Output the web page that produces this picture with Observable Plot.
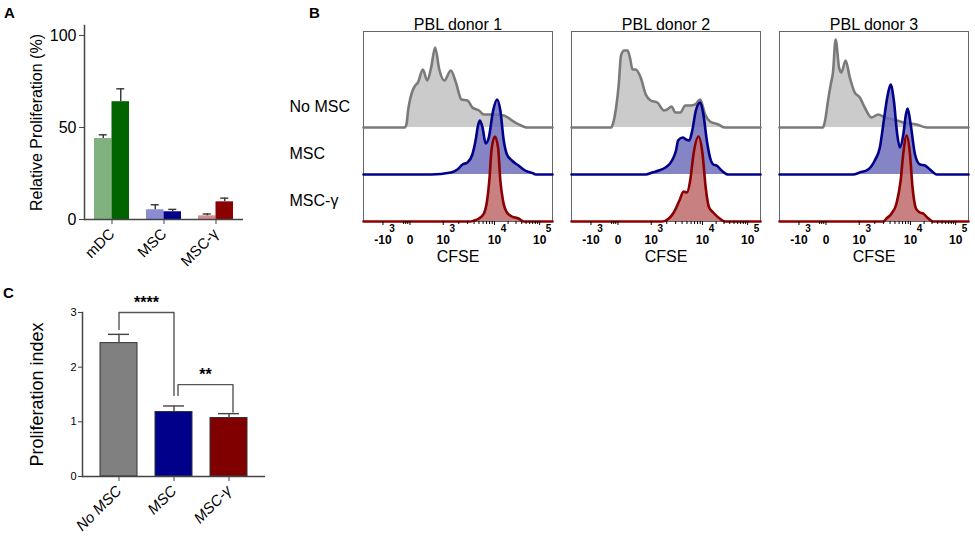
<!DOCTYPE html>
<html>
<head>
<meta charset="utf-8">
<script src="https://cdn.jsdelivr.net/npm/d3@7"></script>
<script src="https://cdn.jsdelivr.net/npm/@observablehq/plot@0.6"></script>
<style>
  body { margin: 0; background: #fff; }
  #fig { position: relative; width: 975px; height: 542px; background: #fff; overflow: hidden;
         font-family: "Liberation Sans", Arial, sans-serif; }
  .panel { position: absolute; }
  .lab { position: absolute; font: bold 15px "Liberation Sans", Arial, sans-serif; line-height: 1; }
</style>
</head>
<body>
<div id="fig">
  <div class="lab" style="left:4px;top:5px">A</div>
  <div class="lab" style="left:309px;top:5px">B</div>
  <div class="lab" style="left:3px;top:285px">C</div>
  <div class="panel" id="pa" style="left:0px;top:0px"></div>
  <div class="panel" id="pb" style="left:270px;top:0px"></div>
  <div class="panel" id="pc" style="left:0px;top:280px"></div>
</div>
<script>
// ---------- Panel A data ----------
const groupsA = ["mDC", "MSC", "MSC-γ"];
const lightA = [44, 5.3, 2.0];
const lightErrA = [2.0, 2.7, 1.0];
const darkA = [64, 4.2, 9.6];
const darkErrA = [7.0, 1.3, 2.0];
const lightColorsA = ["#80b280", "#8c8cd2", "#d48e8e"];
const darkColorsA = ["#006400", "#00008b", "#8b0000"];

// ---------- Panel B data (CFSE histograms: [axis position %, height]) ----------
const donors = ["PBL donor 1", "PBL donor 2", "PBL donor 3"];
const conditions = ["No MSC", "MSC", "MSC-γ"];
const d1NoMSC = [[0,0],[21.8,0],[22.7,3],[23.6,17],[26.2,38],[27.4,42],[28.8,45],[31.4,58],[33.7,47],[35.8,60],[37.9,80],[40.1,58],[42.8,47],[46.2,57],[48.9,45],[51.8,28],[55.0,27],[57.6,20],[61.1,17],[63.7,13],[68.1,13],[74.2,12],[79.4,6],[84.6,1],[86,0],[100,0]];
const d1MSC = [[0,0],[35.8,0],[46.2,2],[49.7,5],[52.4,10],[55.0,12],[57.6,20],[59.3,34],[60.6,49],[61.6,54],[63.0,47],[64.6,31],[66.3,37],[68.6,64],[70.7,75],[72.4,64],[74.2,34],[75.9,20],[78.5,14],[82.0,9],[85.5,4],[89.9,1],[91,0],[100,0]];
const d1MSCg = [[0,0],[56.7,0],[58.5,1],[61.1,3],[63.7,8],[65.4,21],[66.7,44],[67.7,71],[69.5,85],[71.2,74],[72.4,41],[73.8,21],[75.9,9],[78.5,5],[82.0,3],[84.6,0],[100,0]];
const d2NoMSC = [[0,0],[20.9,0],[21.8,3],[23.6,20],[25.0,43],[26.2,72],[27.9,77],[29.7,77],[30.9,70],[32.3,58],[34.0,58],[36.6,50],[39.3,33],[41.9,27],[45.4,25],[48.9,17],[50.6,18],[52.9,21],[55.0,15],[57.6,15],[60.2,22],[62.8,22],[65.4,23],[68.1,28],[70.7,13],[73.3,6],[77.7,3],[81.2,0],[100,0]];
const d2MSC = [[0,0],[39.3,0],[42.8,2],[46.2,4],[49.7,7],[53.2,14],[55.3,24],[56.4,34],[58.8,37],[60.6,35],[62.3,34],[64.0,45],[65.8,64],[68.1,72],[69.8,60],[71.6,34],[73.3,17],[75.0,10],[76.8,9],[79.4,4],[82.9,0],[100,0]];
const d2MSCg = [[0,0],[48.0,0],[51.5,3],[54.1,9],[57.1,21],[59.3,30],[61.1,29],[62.8,41],[64.6,68],[67.2,85],[69.3,68],[71.0,34],[72.8,14],[75.0,9],[77.7,4],[81.2,0],[100,0]];
const d3NoMSC = [[0,0],[23.0,0],[23.9,5],[25.7,27],[27.1,43],[28.3,55],[29.7,88],[31.5,60],[32.7,55],[35.0,67],[37.2,50],[39.8,35],[42.5,30],[45.1,20],[48.7,10],[52.2,13],[55.8,10],[60.2,8],[65.5,5],[72.6,3],[77.9,0],[100,0]];
const d3MSC = [[0,0],[38.9,0],[42.5,2],[46.9,5],[50.4,14],[53.1,27],[55.2,54],[57.0,77],[58.8,90],[60.5,74],[62.3,40],[63.7,27],[65.5,40],[66.9,60],[67.8,66],[69.4,50],[71.7,20],[74.3,10],[77.0,9],[79.6,5],[83.2,0],[100,0]];
const d3MSCg = [[0,0],[54.9,0],[56.6,3],[59.3,8],[61.9,18],[64.1,41],[65.5,68],[67.3,86],[69.0,68],[70.4,34],[72.2,13],[74.3,9],[76.1,8],[78.2,4],[81.4,0],[100,0]];
const tickPos = [10.3, 24.6, 42.2, 69.3, 93.2];
const tickBase = ["-10", "0", "10", "10", "10"];
const tickExp = ["3", "", "3", "4", "5"];
const minorTickPos = [21.2, 22.3, 23.4, 50.4, 55.1, 58.5, 61.1, 63.3, 65.1, 66.7, 68.1, 76.5, 80.7, 83.7, 86.0, 87.9, 89.5, 90.9, 92.1];

// ---------- Panel C data ----------
const catsC = ["No MSC", "MSC", "MSC-γ"];
const valuesC = [2.44, 1.18, 1.07];
const errC = [0.16, 0.11, 0.08];
const colorsC = ["#808080", "#00008b", "#800000"];
const sigFrom = ["No MSC", "MSC"];
const sigTo = ["MSC", "MSC-γ"];
const sigY = [3.0, 1.68];
const sigLeftEnd = [2.69, 1.48];
const sigRightEnd = [1.48, 1.18];
const sigLabel = ["****", "**"];

const FONT = "'Liberation Sans', Arial, sans-serif";
const baseStyle = {fontFamily: FONT, background: "transparent", overflow: "visible", color: "#000"};

// ================= Panel A =================
const dataA = groupsA.map((g, i) => ({
  g, light: lightA[i], lightTop: lightA[i] + lightErrA[i], lightColor: lightColorsA[i],
  dark: darkA[i], darkTop: darkA[i] + darkErrA[i], darkColor: darkColorsA[i]
}));
const plotA = Plot.plot({
  width: 260, height: 280,
  marginLeft: 84, marginRight: 17, marginTop: 25, marginBottom: 61,
  style: baseStyle,
  x: {domain: groupsA, paddingInner: 0.327, paddingOuter: 0.19, axis: null},
  y: {domain: [0, 105.4], axis: null},
  color: {type: "identity"},
  marks: [
    Plot.barY(dataA, {x: "g", y: "light", fill: "lightColor", insetRight: 17.5}),
    Plot.barY(dataA, {x: "g", y: "dark", fill: "darkColor", insetLeft: 17.5}),
    Plot.ruleX(dataA, {x: "g", y1: "light", y2: "lightTop", dx: -8.75, stroke: "#333", strokeWidth: 1.4}),
    Plot.tickY(dataA, {x: "g", y: "lightTop", insetLeft: 4.75, insetRight: 22.25, stroke: "#333", strokeWidth: 1.4}),
    Plot.ruleX(dataA, {x: "g", y1: "dark", y2: "darkTop", dx: 8.75, stroke: "#333", strokeWidth: 1.4}),
    Plot.tickY(dataA, {x: "g", y: "darkTop", insetLeft: 22.25, insetRight: 4.75, stroke: "#333", strokeWidth: 1.4}),
    Plot.ruleY([0], {stroke: "#444", strokeWidth: 1.5}),
    Plot.frame({anchor: "left", stroke: "#444", strokeWidth: 1.5}),
    Plot.axisY({ticks: [0, 50, 100], tickSize: 5, tickPadding: 3, fontSize: 16, label: null, stroke: "#444"}),
    Plot.axisX({tickSize: 5, tickRotate: -45, fontSize: 15, label: null, stroke: "#444"}),
    Plot.text(["Relative Proliferation (%)"], {frameAnchor: "left", textAnchor: "middle", rotate: -90, dx: -48, fontSize: 16})
  ]
});
document.getElementById("pa").appendChild(plotA);

// ================= Panel B =================
const seriesB = [
  [donors[0], conditions[0], d1NoMSC], [donors[0], conditions[1], d1MSC], [donors[0], conditions[2], d1MSCg],
  [donors[1], conditions[0], d2NoMSC], [donors[1], conditions[1], d2MSC], [donors[1], conditions[2], d2MSCg],
  [donors[2], conditions[0], d3NoMSC], [donors[2], conditions[1], d3MSC], [donors[2], conditions[2], d3MSCg]
];
const rowStep = 47;
const tableB = [];
for (const [donor, cond, pts] of seriesB) {
  const offset = (conditions.length - 1 - conditions.indexOf(cond)) * rowStep;
  for (const [x, h] of pts) tableB.push({donor, cond, x, base: offset, top: offset + h});
}
const rowsB = conditions.map((c, i) => ({label: c, offset: (conditions.length - 1 - i) * rowStep}));
const ticksB = tickPos.map((p, i) => ({pos: p, base: tickBase[i], exp: tickExp[i]}));
const styleB = {
  "No MSC": {fill: "#cbcbcb", fillOpacity: 1, stroke: "#7a7a7a"},
  "MSC": {fill: "#7070bc", fillOpacity: 0.85, stroke: "#00008b"},
  "MSC-γ": {fill: "#c27272", fillOpacity: 0.9, stroke: "#8b0000"}
};
const marksB = [Plot.frame({stroke: "#666", strokeWidth: 1})];
for (const c of conditions) {
  const sub = tableB.filter(d => d.cond === c);
  marksB.push(Plot.areaY(sub, {x: "x", y1: "base", y2: "top", fx: "donor", fill: styleB[c].fill, fillOpacity: styleB[c].fillOpacity, curve: "monotone-x"}));
  marksB.push(Plot.line(sub, {x: "x", y: "top", fx: "donor", stroke: styleB[c].stroke, strokeWidth: 2.6, curve: "monotone-x"}));
}
marksB.push(
  Plot.axisX({ticks: tickPos, tickSize: 4, tickFormat: () => "", stroke: "#000"}),
  Plot.axisX({ticks: minorTickPos, tickSize: 3, tickFormat: () => "", stroke: "#000"}),
  Plot.text(ticksB, {x: "pos", text: "base", frameAnchor: "bottom", dy: 22, fontSize: 12, fontWeight: "bold"}),
  Plot.text(ticksB, {x: "pos", text: "exp", frameAnchor: "bottom", dx: 9, dy: 10, fontSize: 10, fontWeight: "bold"}),
  Plot.text(["CFSE"], {frameAnchor: "bottom", dy: 40, fontSize: 16}),
  Plot.axisFx({anchor: "top", tickSize: 0, tickPadding: 2, fontSize: 16, label: null}),
  Plot.text(rowsB, {fx: () => donors[0], frameAnchor: "left", y: "offset", text: "label", dy: -21, dx: -74, textAnchor: "start", fontSize: 16})
);
const plotB = Plot.plot({
  width: 705, height: 280,
  marginLeft: 92, marginRight: 5, marginTop: 31, marginBottom: 59,
  style: baseStyle,
  fx: {domain: donors, paddingInner: 0.09, paddingOuter: 0, axis: null},
  x: {domain: [0, 100], axis: null},
  y: {domain: [0, 190], axis: null},
  marks: marksB
});
document.getElementById("pb").appendChild(plotB);

// ================= Panel C =================
const dataC = catsC.map((c, i) => ({c, v: valuesC[i], top: valuesC[i] + errC[i], color: colorsC[i]}));
const sigC = sigLabel.map((l, i) => ({label: l, from: sigFrom[i], to: sigTo[i], y: sigY[i], y1: sigLeftEnd[i], y2: sigRightEnd[i]}));
const bracketPath = s => [{x: s.from, y: s.y1}, {x: s.from, y: s.y}, {x: s.to, y: s.y}, {x: s.to, y: s.y2}];
const plotC = Plot.plot({
  width: 270, height: 262,
  marginLeft: 82, marginRight: 5, marginTop: 32, marginBottom: 66,
  style: baseStyle,
  x: {domain: catsC, paddingInner: 0.336, paddingOuter: 0.33, axis: null},
  y: {domain: [0, 3], axis: null},
  color: {type: "identity"},
  marks: [
    Plot.barY(dataC, {x: "c", y: "v", fill: "color", stroke: "#333", strokeWidth: 1}),
    Plot.ruleX(dataC, {x: "c", y1: "v", y2: "top", stroke: "#444", strokeWidth: 1.4}),
    Plot.tickY(dataC, {x: "c", y: "top", insetLeft: 8, insetRight: 8, stroke: "#444", strokeWidth: 1.4}),
    Plot.line(bracketPath(sigC[0]), {x: "x", y: "y", stroke: "#555", strokeWidth: 1.4}),
    Plot.line(bracketPath(sigC[1]), {x: "x", y: "y", dx: 4, stroke: "#555", strokeWidth: 1.4}),
    Plot.text([sigC[0]], {x: "to", y: "y", text: "label", dx: -27.5, dy: -10, fontSize: 16, fontWeight: "bold"}),
    Plot.text([sigC[1]], {x: "to", y: "y", text: "label", dx: -23.5, dy: -10, fontSize: 16, fontWeight: "bold"}),
    Plot.ruleY([0], {stroke: "#444", strokeWidth: 1.5}),
    Plot.frame({anchor: "left", stroke: "#444", strokeWidth: 1.5}),
    Plot.axisY({ticks: [0, 1, 2, 3], tickFormat: d => String(d), tickSize: 4, tickPadding: 2, fontSize: 11, label: null, stroke: "#444"}),
    Plot.axisX({tickSize: 5, tickRotate: -45, fontSize: 15, fontStyle: "italic", label: null, stroke: "#444"}),
    Plot.text(["Proliferation index"], {frameAnchor: "left", textAnchor: "middle", rotate: -90, dx: -45, fontSize: 18})
  ]
});
document.getElementById("pc").appendChild(plotC);
</script>
</body>
</html>
